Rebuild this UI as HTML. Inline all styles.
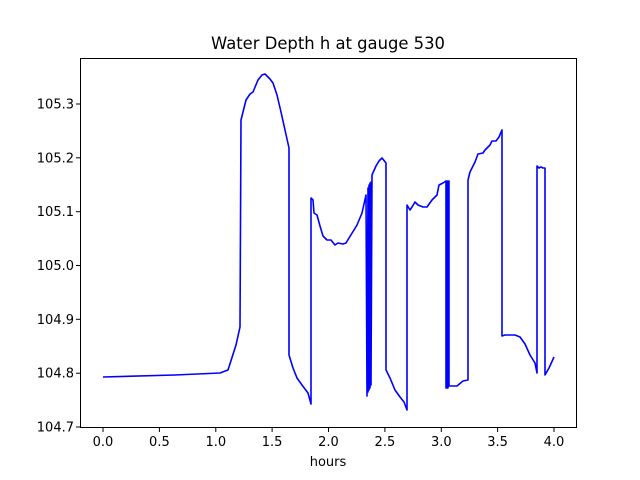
<!DOCTYPE html>
<html><head><style>body{margin:0;background:#fff}svg{display:block}</style></head><body>
<svg width="640" height="480" xmlns="http://www.w3.org/2000/svg" font-family="DejaVu Sans, sans-serif">
<rect width="640" height="480" fill="#fff"/>
<text x="328" y="49" font-size="16.4" text-anchor="middle">Water Depth h at gauge 530</text>
<polyline fill="none" stroke="#0000ff" stroke-width="1.6" stroke-linejoin="round" points="103,377 175,375 220,373 228,370 236,345 240,327 241,120 246,100 250,94 253,92 258,80 262,75 265,74 270,79 273,83 277,95 281,112 285,130 289,148 289,355 293,368 297,378 302,385 308,393 311,404 311,198 313,200 314,213 317,215 320,226 323,236 327,240 331,240 335,245 338,243 343,244 346,243 349,238 354,230 357,225 362,213 366,195 367,396 368,188 368,392 369,185 369,390 370,183 370,388 371,182 371,385 372,175 376,166 379,161 382,158 386,163 386,370 390,378 395,390 400,397 404,402 407,410 407,205 410,210 412,207 415,202 418,205 423,207 427,207 432,200 437,195 439,185 443,183 446,181 446,388 447,181 447,388 448,181 448,388 449,181 449,386 457,386 463,381 468,380 468,180 470,172 475,162 478,154 483,153 485,150 490,145 492,141 496,141 499,137 502,130 502,336 505,335 515,335 520,337 525,344 530,355 535,363 537,373 537,166 539,168 541,167 543,168 545,168 545,375 549,368 554,357"/>
<rect x="80.5" y="58.5" width="496" height="369" fill="none" stroke="#000" stroke-width="1"/>
<g font-size="13" text-anchor="middle">
<g stroke="#000"><line x1="103" y1="428" x2="103" y2="432"/><line x1="159.4" y1="428" x2="159.4" y2="432"/><line x1="215.8" y1="428" x2="215.8" y2="432"/><line x1="272.1" y1="428" x2="272.1" y2="432"/><line x1="328.5" y1="428" x2="328.5" y2="432"/><line x1="384.9" y1="428" x2="384.9" y2="432"/><line x1="441.3" y1="428" x2="441.3" y2="432"/><line x1="497.6" y1="428" x2="497.6" y2="432"/><line x1="554" y1="428" x2="554" y2="432"/></g>
<text x="103" y="446">0.0</text><text x="159.4" y="446">0.5</text><text x="215.8" y="446">1.0</text><text x="272.1" y="446">1.5</text><text x="328.5" y="446">2.0</text><text x="384.9" y="446">2.5</text><text x="441.3" y="446">3.0</text><text x="497.6" y="446">3.5</text><text x="554" y="446">4.0</text>
<text x="328" y="466">hours</text>
</g>
<g font-size="13" text-anchor="end" stroke="none">
<g stroke="#000"><line x1="76" y1="427" x2="80" y2="427"/><line x1="76" y1="373.2" x2="80" y2="373.2"/><line x1="76" y1="319.3" x2="80" y2="319.3"/><line x1="76" y1="265.5" x2="80" y2="265.5"/><line x1="76" y1="211.7" x2="80" y2="211.7"/><line x1="76" y1="157.8" x2="80" y2="157.8"/><line x1="76" y1="104" x2="80" y2="104"/></g>
<text x="74" y="431.5">104.7</text><text x="74" y="377.7">104.8</text><text x="74" y="323.8">104.9</text><text x="74" y="270">105.0</text><text x="74" y="216.2">105.1</text><text x="74" y="162.3">105.2</text><text x="74" y="108.5">105.3</text>
</g>
</svg>
</body></html>
